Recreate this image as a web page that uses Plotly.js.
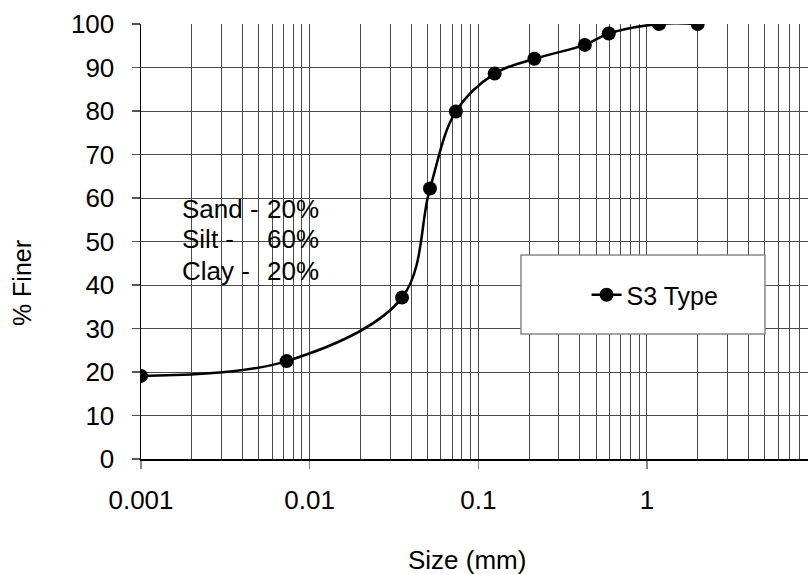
<!DOCTYPE html>
<html>
<head>
<meta charset="utf-8">
<script src="https://cdn.plot.ly/plotly-3.0.1.min.js"></script>
<style>html,body{margin:0;padding:0;background:#fff;}#chart{width:808px;height:574px;}</style>
</head>
<body>
<div id="chart"></div>
<script>
// ---- data ----
const seriesName = 'S3 Type';
const sizeMm = [0.001, 0.0073, 0.0353, 0.0517, 0.0736, 0.125, 0.215, 0.428, 0.594, 1.18, 2.0];
const percentFiner = [19.1, 22.5, 37.1, 62.2, 79.9, 88.6, 92.0, 95.2, 97.8, 100, 100];
const xTickVals = [0.001, 0.01, 0.1, 1];
const xTickText = ['0.001', '0.01', '0.1', '1'];
const yTickVals = [0, 10, 20, 30, 40, 50, 60, 70, 80, 90, 100];
const compLabels = ['Sand -', 'Silt -', 'Clay -'];
const compValues = ['20%', '60%', '20%'];
const xTitle = 'Size (mm)';
const yTitle = '% Finer';

const FONT = 'Liberation Sans, Arial, sans-serif';
const GRID = '#4a4a4a';

// minor gridlines 2..9 in each decade
const minorVals = [];
for (let d = -3; d <= 0; d++) for (let k = 2; k <= 9; k++) minorVals.push(k * Math.pow(10, d));

const trace = {
  x: sizeMm, y: percentFiner, name: seriesName,
  type: 'scatter', mode: 'lines+markers',
  line: {color: '#000', width: 2.5, shape: 'spline', smoothing: 1},
  marker: {color: '#000', size: 14, symbol: 'circle'}
};

const annYs = [0.575, 0.505, 0.432];
const annotations = [];
compLabels.forEach((t, i) => {
  annotations.push({xref: 'paper', yref: 'paper', x: 0.058, y: annYs[i], xanchor: 'left', yanchor: 'middle',
    text: t, showarrow: false, font: {family: FONT, size: 26, color: '#000'}});
  annotations.push({xref: 'paper', yref: 'paper', x: 0.186, y: annYs[i], xanchor: 'left', yanchor: 'middle',
    text: compValues[i], showarrow: false, font: {family: FONT, size: 26, color: '#000'}});
});
annotations.push({xref: 'paper', yref: 'paper', x: 0.489, y: -0.232, xanchor: 'center', yanchor: 'middle',
  text: xTitle, showarrow: false, font: {family: FONT, size: 26, color: '#000'}});
annotations.push({xref: 'paper', yref: 'paper', x: -0.178, y: 0.405, xanchor: 'center', yanchor: 'middle',
  text: yTitle, textangle: -90, showarrow: false, font: {family: FONT, size: 25, color: '#000'}});

const layout = {
  width: 808, height: 574,
  margin: {l: 141, r: 0, t: 24, b: 115, pad: 0},
  paper_bgcolor: '#fff', plot_bgcolor: '#fff',
  font: {family: FONT, size: 26, color: '#000'},
  showlegend: true,
  legend: {x: 0.668, y: 0.377, xanchor: 'left', yanchor: 'middle', bgcolor: 'rgba(0,0,0,0)',
    borderwidth: 0, font: {family: FONT, size: 25, color: '#000'}},
  xaxis: {
    type: 'log', range: [-3, 0.955], tickmode: 'array', tickvals: xTickVals, ticktext: xTickText,
    ticks: 'outside', ticklen: 8, tickcolor: '#888', tickwidth: 1.5,
    showgrid: true, gridcolor: GRID, gridwidth: 1,
    minor: {tickmode: 'array', tickvals: minorVals, showgrid: true, gridcolor: GRID, gridwidth: 1, ticks: ''},
    showline: true, linecolor: '#000', linewidth: 1.5, zeroline: false,
    ticklabelstandoff: 9, tickfont: {family: FONT, size: 26, color: '#000'}
  },
  yaxis: {
    range: [0, 100], tickmode: 'array', tickvals: yTickVals,
    ticks: 'outside', ticklen: 8, tickcolor: '#555', tickwidth: 1.5,
    showgrid: true, gridcolor: GRID, gridwidth: 1,
    showline: true, linecolor: '#000', linewidth: 1.5, zeroline: false,
    ticklabelstandoff: 12, tickfont: {family: FONT, size: 26, color: '#000'}
  },
  shapes: [{type: 'rect', xref: 'paper', yref: 'paper', x0: 0.5697, x1: 0.9355, y0: 0.2874, y1: 0.469,
    fillcolor: '#fff', line: {color: '#888', width: 1.5}, layer: 'above'}],
  annotations: annotations
};

Plotly.newPlot('chart', [trace], layout, {displayModeBar: false, staticPlot: true});
</script>
</body>
</html>
